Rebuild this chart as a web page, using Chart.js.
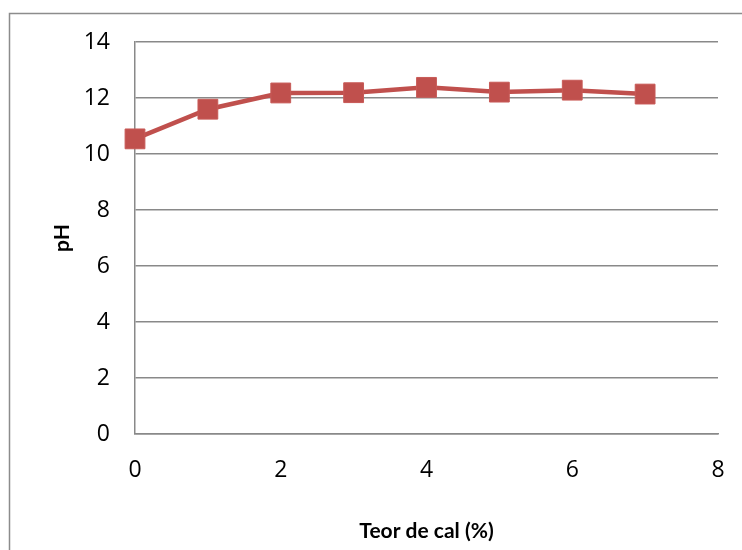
<!DOCTYPE html>
<html>
<head>
<meta charset="utf-8">
<script src="https://cdn.jsdelivr.net/npm/chart.js@4/dist/chart.umd.min.js"></script>
<style>
  html, body { margin: 0; padding: 0; background: #ffffff; }
  #wrap { width: 742px; height: 550px; position: relative; }
</style>
</head>
<body>
<div id="wrap"><canvas id="c" width="742" height="550"></canvas></div>
<script>
// Lime content (%) and measured pH
const limeContent = [0, 1, 2, 3, 4, 5, 6, 7];
const phValues = [10.54, 11.6, 12.18, 12.19, 12.38, 12.21, 12.28, 12.14];
const xTicks = [0, 2, 4, 6, 8];
const yTicks = [0, 2, 4, 6, 8, 10, 12, 14];

const TICK_FONT = '"Open Sans", Lato, "Liberation Sans", sans-serif';
const TITLE_FONT = 'Lato, "Open Sans", "Liberation Sans", sans-serif';
const RED = '#C0504D';
const GRID = '#898989';

// frame around the chart area
const framePlugin = {
  id: 'frame',
  beforeDraw(chart) {
    const ctx = chart.ctx;
    ctx.save();
    ctx.strokeStyle = '#8c8c8c';
    ctx.lineWidth = 1.5;
    ctx.strokeRect(9.5, 13.5, 800, 600);
    ctx.restore();
  }
};

new Chart(document.getElementById('c'), {
  type: 'scatter',
  data: {
    datasets: [{
      data: limeContent.map((x, i) => ({ x: x, y: phValues[i] })),
      showLine: true,
      clip: false,
      borderColor: RED,
      borderWidth: 4.5,
      backgroundColor: RED,
      pointStyle: 'rect',
      pointRadius: 14,
      pointHoverRadius: 14,
      pointBorderColor: '#c85a57',
      pointBorderWidth: 1,
      tension: 0
    }]
  },
  options: {
    responsive: false,
    animation: false,
    events: [],
    layout: { padding: { left: 40, top: 42, right: 24, bottom: 0 } },
    plugins: { legend: { display: false }, tooltip: { enabled: false } },
    scales: {
      x: {
        type: 'linear',
        min: 0, max: 8,
        afterBuildTicks: s => { s.ticks = xTicks.map(v => ({ value: v })); },
        afterFit: s => { s.height = 116; s.paddingLeft = 0; s.paddingRight = 0; },
        grid: { display: false, drawTicks: false },
        border: { display: true, color: GRID, width: 1.5 },
        ticks: { color: '#000', padding: 23, font: { family: TICK_FONT, size: 23 } },
        title: {
          display: true, text: 'Teor de cal (%)', color: '#000',
          font: { family: TITLE_FONT, size: 21, weight: 'bold' },
          padding: { top: 0, bottom: 6 }
        }
      },
      y: {
        min: 0, max: 14,
        afterBuildTicks: s => { s.ticks = yTicks.map(v => ({ value: v })); },
        afterFit: s => { s.width = 95; s.paddingTop = 0; s.paddingBottom = 0; },
        grid: { color: GRID, lineWidth: 1.5, drawTicks: false },
        border: { display: true, color: GRID, width: 1.5 },
        ticks: { color: '#000', padding: 25, font: { family: TICK_FONT, size: 23 } },
        title: {
          display: true, text: 'pH', color: '#000',
          font: { family: TITLE_FONT, size: 21, weight: 'bold' },
          padding: { top: 10, bottom: 0 }
        }
      }
    }
  },
  plugins: [framePlugin]
});
</script>
</body>
</html>
